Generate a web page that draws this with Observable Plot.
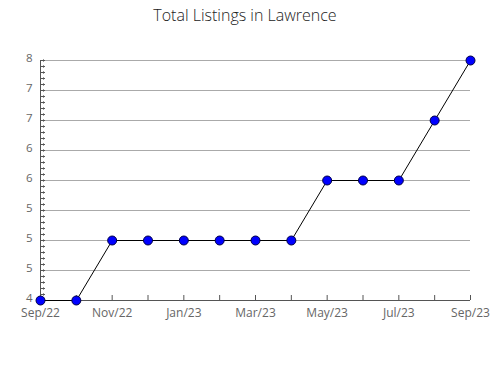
<!DOCTYPE html>
<html>
<head>
<meta charset="utf-8">
<script src="https://cdn.jsdelivr.net/npm/d3@7"></script>
<script src="https://cdn.jsdelivr.net/npm/@observablehq/plot@0.6"></script>
<style>
  body { margin: 0; background: #fff; }
  #title { width: 490px; height: 30px; line-height: 30px; text-align: center; font-family: "Open Sans", sans-serif; font-size: 16px; font-weight: 300; color: #222; }
</style>
</head>
<body>
<div id="title">Total Listings in Lawrence</div>
<div id="chart"></div>
<script>
const months = ["Sep/22","Oct/22","Nov/22","Dec/22","Jan/23","Feb/23","Mar/23","Apr/23","May/23","Jun/23","Jul/23","Aug/23","Sep/23"];
const listings = [4, 4, 5, 5, 5, 5, 5, 5, 6, 6, 6, 7, 8];
const yTicks = [4, 4.5, 5, 5.5, 6, 6.5, 7, 7.5, 8];
const yTickLabels = ["4", "5", "5", "5", "6", "6", "7", "7", "8"];
const xTickLabels = ["Sep/22", "Nov/22", "Jan/23", "Mar/23", "May/23", "Jul/23", "Sep/23"];
const minorTicks = d3.range(40, 81).map(d => d / 10);

const data = months.map((m, i) => ({month: m, value: listings[i]}));
const yLabelMap = new Map(yTicks.map((t, i) => [t, yTickLabels[i]]));

const chart = Plot.plot({
  width: 490,
  height: 350,
  marginLeft: 40,
  marginRight: 20,
  marginTop: 30,
  marginBottom: 80,
  style: {fontFamily: "'Open Sans', sans-serif", fontSize: "12px", color: "#555", background: "#fff"},
  x: {type: "point", domain: months, padding: 0, round: false},
  y: {domain: [4, 8]},
  marks: [
    Plot.gridY(yTicks, {stroke: "#aaa", strokeOpacity: 1}),
    Plot.axisY(yTicks, {tickSize: 0, tickPadding: 8, dy: -2, fontSize: 11.5, tickFormat: d => yLabelMap.get(d), fill: "#666", label: null}),
    Plot.vector(minorTicks, {x: () => months[0], y: d => d, length: 4, rotate: 90, anchor: "start", stroke: "#555", strokeWidth: 1}),
    Plot.axisX(months, {tickSize: -5, tickPadding: 13, stroke: "#555", fill: "#666",
      tickFormat: d => xTickLabels.includes(d) ? d : "", label: null}),
    Plot.ruleY([4], {stroke: "#555"}),
    Plot.ruleX([months[0]], {stroke: "#555"}),
    Plot.line(data, {x: "month", y: "value", stroke: "#000", strokeWidth: 1}),
    Plot.dot(data, {x: "month", y: "value", r: 4.5, fill: "#0000ff", stroke: "#000044", strokeWidth: 1})
  ]
});
document.getElementById("chart").appendChild(chart);
</script>
</body>
</html>
